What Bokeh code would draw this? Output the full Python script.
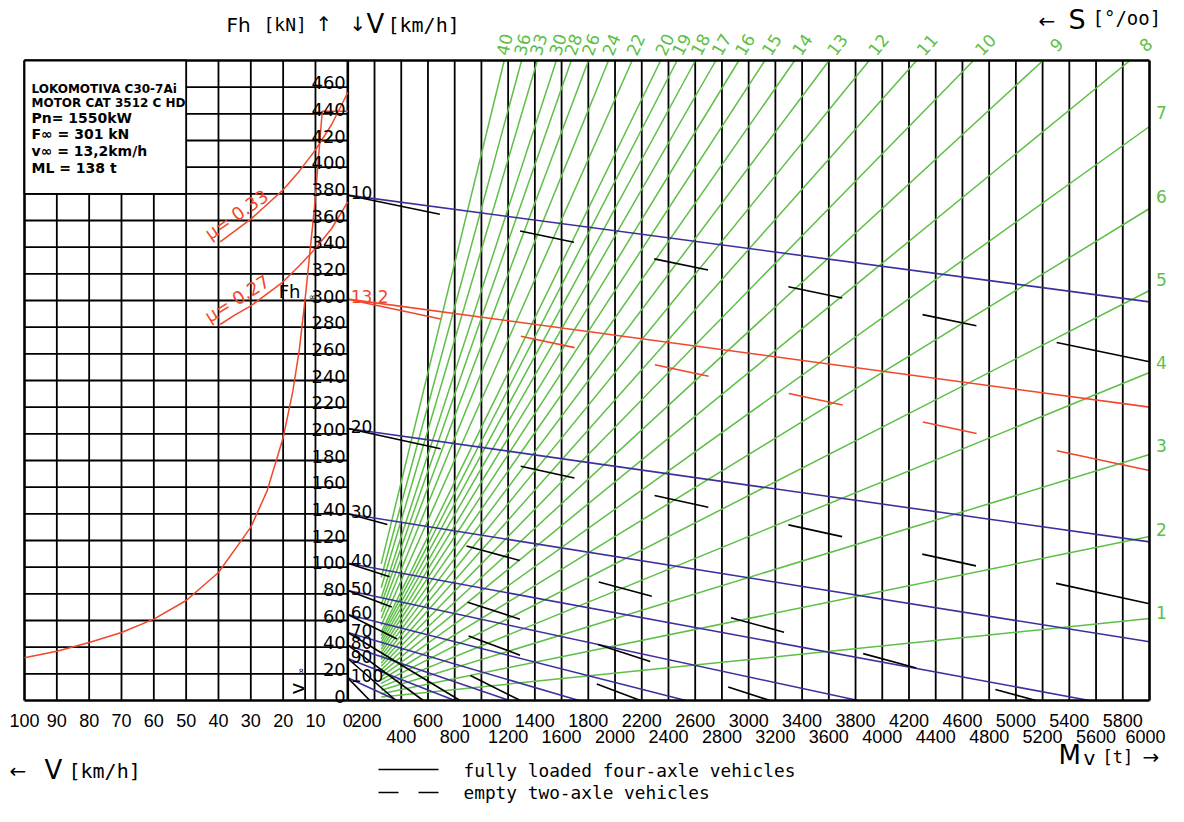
import math
from bokeh.plotting import figure
from bokeh.models import Range1d
from bokeh.core.properties import value
from bokeh.embed import file_html
from bokeh.resources import INLINE

# ---------------- data ----------------
v_tick_labels = [100, 90, 80, 70, 60, 50, 40, 30, 20, 10, 0]
fh_tick_labels = list(range(0, 461, 20))
m_ticks_row1 = list(range(200, 5801, 400))
m_ticks_row2 = list(range(400, 6001, 400))

left_grid_v = [10, 20, 30, 40, 50, 60, 70, 80, 90]
left_grid_f = list(range(20, 461, 20))
right_grid_m = list(range(200, 5801, 200))

# locomotive traction characteristic Fh(V)
traction_v = [0, 7.9, 10.3, 13.2, 15, 17, 20, 25, 30, 40, 50, 60, 70, 80, 90, 100]
traction_f = [442, 442, 370, 301, 263, 232, 197, 157, 130, 96, 75, 61, 51, 43.5, 37, 32]

# adhesion limits
mu33_v = [39.5, 35, 30, 25, 20, 15, 10, 5, 0]
mu33_f = [344, 352, 361, 372, 383, 397, 413, 432, 456]
mu27_v = [39.5, 35, 30, 25, 20, 15, 10, 5, 0]
mu27_f = [282, 289, 296, 305, 314, 326, 339, 354, 374]

v_inf = 13.2
f_inf = 301

# speed lines: start force at Mv = 0, ends of loaded (solid) and empty (dashed) lines
speeds = ["10", "13.2", "20", "30", "40", "50", "60", "70", "80", "90", "100"]
speed_f0 = [379, 301, 204, 140, 103, 82.5, 64.5, 51, 41.5, 31.5, 17]
loaded_end_m = [6000, 6000, 6000, 6000, 5550, 3820, 2530, 1730, 1210, 800, 370]
loaded_end_f = [299, 220, 119, 44, 0, 0, 0, 0, 0, 0, 0]
empty_end_m = [6000, 6000, 6000, 5150, 3160, 2190, 1292, 840, 565, 360, 165]
empty_end_f = [254, 172.5, 72.5, 0, 0, 0, 0, 0, 0, 0, 0]

# gradient lines S [o/oo]
grades = [1, 2, 3, 4, 5, 6, 7, 8, 9, 10, 11, 12, 13, 14, 15, 16, 17, 18, 19, 20,
          22, 24, 26, 28, 30, 33, 36, 40]
grade_kn_per_t = 0.01025  # kN per tonne per o/oo

info_lines = ["LOKOMOTIVA C30-7Ai", "MOTOR CAT 3512 C HD", "Pn= 1550kW",
              "F\u221e = 301 kN", "v\u221e = 13,2km/h", "ML = 138 t"]

# ---------------- geometry (picture pixels) ----------------
X0, XR, XL, Y0, YT = 347.3, 1149.0, 24.0, 700.0, 60.0
PXM = 6000 / (XR - X0)
PXV = 100 / (X0 - XL)
PXF = 480 / (Y0 - YT)
W, H = 1168, 806


def mx(px):
    return (px - X0) * PXM


def vx(px):
    return (X0 - px) * PXV


def fy(py):
    return (Y0 - py) * PXF


GREEN = "#5dbf46"
BLUE = "#3d2f9c"
RED = "#f2472b"

p = figure(width=W, height=H, x_range=Range1d(mx(0), mx(W)),
           y_range=Range1d(fy(H), fy(0)), output_backend="svg",
           toolbar_location=None, x_axis_location=None, y_axis_location=None,
           min_border=0, outline_line_color=None)
p.extra_x_ranges = {"V": Range1d(start=vx(0), end=vx(W))}
p.grid.visible = False
p.background_fill_color = "white"
p.border_fill_color = "white"

GW = 1.8
# left grid
p.segment(x0=left_grid_v, y0=[0] * len(left_grid_v), x1=left_grid_v, y1=[480] * len(left_grid_v),
          x_range_name="V", line_color="black", line_width=GW)
p.segment(x0=[100] * len(left_grid_f), y0=left_grid_f, x1=[0] * len(left_grid_f), y1=left_grid_f,
          x_range_name="V", line_color="black", line_width=GW)
p.segment(x0=[v_inf], y0=[0], x1=[v_inf], y1=[f_inf], x_range_name="V",
          line_color="black", line_width=GW)
# right grid
p.segment(x0=right_grid_m, y0=[0] * len(right_grid_m), x1=right_grid_m, y1=[480] * len(right_grid_m),
          line_color="black", line_width=GW)

# gradient lines
g_x0, g_y0, g_x1, g_y1 = [], [], [], []
for s in grades:
    k = grade_kn_per_t * s
    m_end = min(6000, 480 / k)
    g_x0.append(250)
    g_y0.append(k * 250)
    g_x1.append(m_end)
    g_y1.append(k * m_end)
p.segment(x0=g_x0, y0=g_y0, x1=g_x1, y1=g_y1, line_color=GREEN, line_width=1.5)

# speed lines, fully loaded (solid)
cols = [RED if s == "13.2" else BLUE for s in speeds]
p.segment(x0=[0] * len(speeds), y0=speed_f0, x1=loaded_end_m, y1=loaded_end_f,
          line_color=cols, line_width=1.6)

# speed lines, empty (CAD style dashes: pattern centred, equal end dashes)
DASH, GAP = 55, 82


def cad_dash(length):
    n = int(math.floor((length - GAP - DASH) / (GAP + DASH)))
    if n < 0:
        return "solid"
    e = (length - (n + 1) * GAP - n * DASH) / 2
    parts = [e, GAP] + [DASH, GAP] * n + [e + 6, 4000]
    return " ".join(str(int(round(v))) for v in parts)


for s, f0, m1, f1 in zip(speeds, speed_f0, empty_end_m, empty_end_f):
    L = math.hypot(m1 / PXM, (f0 - f1) / PXF)
    p.segment(x0=[0], y0=[f0], x1=[m1], y1=[f1], line_color=RED if s == "13.2" else "black",
              line_width=1.6, line_dash=cad_dash(L))

# frame
p.segment(x0=[100, 100, 100, 0], y0=[0, 480, 0, 0], x1=[0, 0, 100, 0], y1=[0, 480, 480, 480],
          x_range_name="V", line_color="black", line_width=2.6)
p.segment(x0=[0, 0, 6000], y0=[0, 480, 0], x1=[6000, 6000, 6000], y1=[0, 480, 480],
          line_color="black", line_width=2.6)

# traction + adhesion curves
p.line(traction_v, traction_f, x_range_name="V", line_color=RED, line_width=1.5)
p.line(mu33_v, mu33_f, x_range_name="V", line_color=RED, line_width=1.5)
p.line(mu27_v, mu27_f, x_range_name="V", line_color=RED, line_width=1.5)

# info box
p.quad(left=[100], right=[50], bottom=[380], top=[480], x_range_name="V",
       fill_color="white", line_color="black", line_width=GW)


def txt(x, y, s, size, color="black", font="DejaVu Sans", align="left",
        baseline="middle", angle=0.0, rng=None, style="normal"):
    kw = {"x_range_name": rng} if rng else {}
    p.text(x=[x], y=[y], text=[s], text_font=value(font), text_font_size=size,
           text_color=color, text_align=align, text_baseline=baseline, angle=angle,
           text_font_style=style, **kw)


info_y = [88, 102, 117, 133, 150, 167]
for i, (s, py) in enumerate(zip(info_lines, info_y)):
    txt(vx(31), fy(py), s, "12px" if i < 2 else "14px", rng="V", style="bold")

# Fh tick labels
p.text(x=[2 * PXV] * len(fh_tick_labels), y=[f + 4.5 * PXF for f in fh_tick_labels],
       text=[str(f) for f in fh_tick_labels], x_range_name="V",
       text_font=value("DejaVu Sans"), text_font_size="18px", text_align="right",
       text_baseline="alphabetic", text_color="black")

# speed labels
p.text(x=[3 * PXM] * len(speeds), y=[f + 2.5 * PXF for f in speed_f0], text=speeds,
       text_font=value("DejaVu Sans"), text_font_size="17px", text_align="left",
       text_baseline="alphabetic", text_color=[RED if s == "13.2" else "black" for s in speeds])

# bottom tick labels
p.text(x=v_tick_labels, y=[fy(720)] * len(v_tick_labels), text=[str(v) for v in v_tick_labels],
       x_range_name="V", text_font=value("Liberation Sans"), text_font_size="18px",
       text_align="center", text_baseline="middle", text_color="black")
row1_x = [m - 8 * PXM if m == 200 else m for m in m_ticks_row1]
p.text(x=row1_x, y=[fy(720)] * len(m_ticks_row1), text=[str(m) for m in m_ticks_row1],
       text_font=value("Liberation Sans"), text_font_size="18px",
       text_align="center", text_baseline="middle", text_color="black")
row2_x = [m if m < 6000 else m - 4 * PXM for m in m_ticks_row2]
p.text(x=row2_x, y=[fy(735.5)] * len(m_ticks_row2), text=[str(m) for m in m_ticks_row2],
       text_font=value("Liberation Sans"), text_font_size="18px",
       text_align="center", text_baseline="middle", text_color="black")

# gradient labels
for s in grades:
    k = grade_kn_per_t * s
    ang = math.atan(k * PXM / PXF)
    if s >= 8:
        f_lab = fy(44)
        txt(f_lab / k - 4 * PXM, f_lab, str(s), "17px", color=GREEN, align="center", angle=ang)
    else:
        m_lab = mx(1161)
        txt(m_lab, k * m_lab + 5 * PXF, str(s), "17px", color=GREEN, align="center")

# mu labels
txt(vx(236), fy(214), "\u03bc= 0.33", "18px", color=RED, align="center", angle=math.radians(35), rng="V")
txt(vx(236.5), fy(298), "\u03bc= 0.27", "18px", color=RED, align="center", angle=math.radians(32), rng="V")

# Fh / v-infinity marks
txt(vx(300), fy(291), "Fh", "18px", align="right", rng="V")
txt(vx(312), fy(296), "\u221e", "9px", align="center", rng="V")
txt(vx(296.5), fy(688), "v", "20px", align="center", angle=math.pi / 2, rng="V")
txt(vx(300.5), fy(671), "\u221e", "9px", align="center", angle=math.pi / 2, rng="V")

# axis titles
txt(vx(226), fy(24), "Fh", "20px", rng="V")
txt(vx(263), fy(24), "[kN]", "18px", font="DejaVu Sans Mono", rng="V")
txt(vx(315), fy(23), "\u2191", "20px", rng="V")
txt(mx(349), fy(23), "\u2193", "20px")
txt(mx(366), fy(23), "V", "26px")
txt(mx(387), fy(24), "[km/h]", "20px", font="DejaVu Sans Mono")

txt(mx(1038), fy(20), "\u2190", "20px")
txt(mx(1068), fy(19), "S", "27px")
txt(mx(1092), fy(17), "[\u00b0/oo]", "19px", font="DejaVu Sans Mono")

txt(vx(9), fy(770), "\u2190", "20px", rng="V")
txt(vx(44), fy(769), "V", "26px", rng="V")
txt(vx(68), fy(770), "[km/h]", "20px", font="DejaVu Sans Mono", rng="V")

txt(mx(1058), fy(754), "M", "26px")
txt(mx(1083), fy(757), "v", "20px")
txt(mx(1102), fy(756), "[t]", "17px", font="DejaVu Sans Mono")
txt(mx(1142), fy(756), "\u2192", "20px")

# legend
LY1, LY2 = 769, 792
p.segment(x0=[mx(378), mx(378), mx(418)], y0=[fy(LY1), fy(LY2), fy(LY2)],
          x1=[mx(438), mx(398), mx(438)], y1=[fy(LY1), fy(LY2), fy(LY2)],
          line_color="black", line_width=1.5)
txt(mx(463), fy(LY1 + 1), "fully loaded four-axle vehicles", "17.8px", font="DejaVu Sans Mono")
txt(mx(463), fy(LY2), "empty two-axle vehicles", "17.8px", font="DejaVu Sans Mono")

open("out.html", "w").write(file_html(p, INLINE))
